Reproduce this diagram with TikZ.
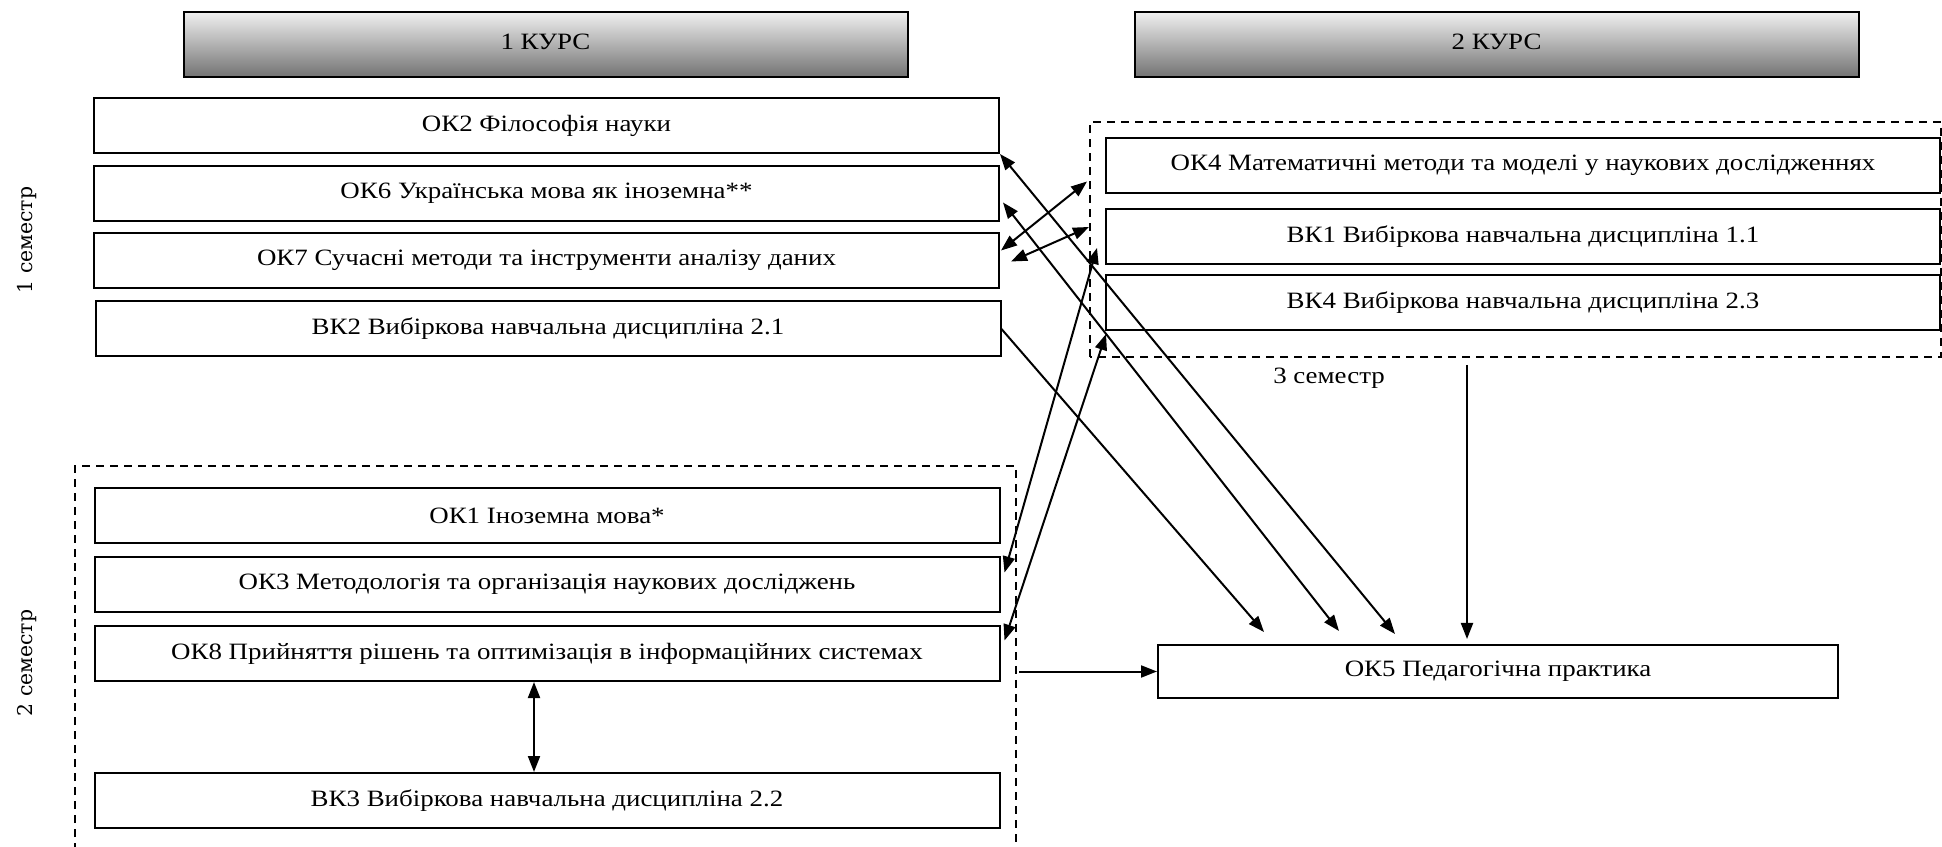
\documentclass[tikz,border=0pt]{standalone}
\usepackage{fontspec}
\setmainfont{Liberation Serif}[FakeStretch=1.15]
\newfontfamily\semfont{DejaVu Serif}
\usetikzlibrary{arrows.meta,calc}

\begin{document}
\begin{tikzpicture}
[x=0.5pt, y=0.5pt, font=\fontsize{11.7}{13}\selectfont,
 disc/.style={draw, line width=1pt, minimum width=452.5pt, minimum height=27.5pt, inner sep=0pt},
 kurs/.style={draw, line width=1pt, top color=black!6, bottom color=black!55, minimum width=362pt, minimum height=32.5pt, inner sep=0pt},
 sem/.style={rotate=90, font=\semfont\fontsize{10.2}{12}\selectfont},
 link/.style={line width=1pt, -{Triangle[length=8pt,width=6pt]}},
 both/.style={line width=1pt, {Triangle[length=8pt,width=6pt]}-{Triangle[length=8pt,width=6pt]}},
 group/.style={line width=0.6pt, dash pattern=on 4pt off 3pt}]
\useasboundingbox (0,0) rectangle (1942,846);

% headers
\node [kurs] (kurs1) at (545.5,801.5) {\raisebox{3pt}{1 КУРС}};
\node [kurs] (kurs2) at (1496.5,801.5) {\raisebox{3pt}{2 КУРС}};

% 1 semester
\node [disc] (ok2) at (546.5,720.5) {ОК2 Філософія науки};
\node [disc] (ok6) at (546.5,652.5) {ОК6 Українська мова як іноземна**};
\node [disc] (ok7) at (546.5,585.5) {ОК7 Сучасні методи та інструменти аналізу даних};
\node [disc] (vk2) at (548,517) {ВК2 Вибіркова навчальна дисципліна 2.1};
\node [sem] (sem1) at (27,606) {1 семестр};

% 2 semester
\draw [group] (75,-5) -- (75,380) -- (1016,380) -- (1016,-5);
\node [disc] (ok1) at (547,330.5) {ОК1 Іноземна мова*};
\node [disc] (ok3) at (547,261.5) {ОК3 Методологія та організація наукових досліджень};
\node [disc] (ok8) at (547,192.5) {ОК8 Прийняття рішень та оптимізація в інформаційних системах};
\node [disc] (vk3) at (547,45.5) {ВК3 Вибіркова навчальна дисципліна 2.2};
\node [sem] (sem2) at (27,183) {2 семестр};

% 3 semester
\draw [group] (1090,489) rectangle (1941,724);
\node [disc, minimum width=417pt] (ok4) at (1523,680.5) {ОК4 Математичні методи та моделі у наукових дослідженнях};
\node [disc, minimum width=417pt] (vk1) at (1523,609) {ВК1 Вибіркова навчальна дисципліна 1.1};
\node [disc, minimum width=417pt] (vk4) at (1523,543.5) {ВК4 Вибіркова навчальна дисципліна 2.3};
\node (sem3) at (1329,468) {3 семестр};

\node [disc, minimum width=340pt, minimum height=26.5pt] (ok5) at (1498,174.5) {ОК5 Педагогічна практика};
\coordinate (top3) at (1467,481);
\coordinate (out2) at (1019,174.5);

% links
\draw [both] (ok2.south east) -- ($(ok5.north)+(-103,10)$);
\draw [both] ($(ok6.east)+(3,-9)$) -- ($(ok5.north)+(-159,13)$);
\draw [link] (vk2.east) -- ($(ok5.north)+(-234,12)$);
\draw [both] ($(ok7.east)+(1,10)$) -- ($(ok4.west)+(-18,-16)$);
\draw [both] ($(ok7.east)+(11,-1)$) -- ($(vk1.west)+(-16,10)$);
\draw [both] ($(vk1.west)+(-8,-11)$) -- ($(ok3.east)+(4,12)$);
\draw [both] ($(vk4.south west)+(1,-3)$) -- ($(ok8.east)+(4,13)$);
\draw [both] ($(ok8.south)+(-13,0)$) -- ($(vk3.north)+(-13,0)$);
\draw [link] (top3) -- ($(ok5.north)+(-31,5)$);
\draw [link] (out2) -- (ok5.west);
\end{tikzpicture}
\end{document}
